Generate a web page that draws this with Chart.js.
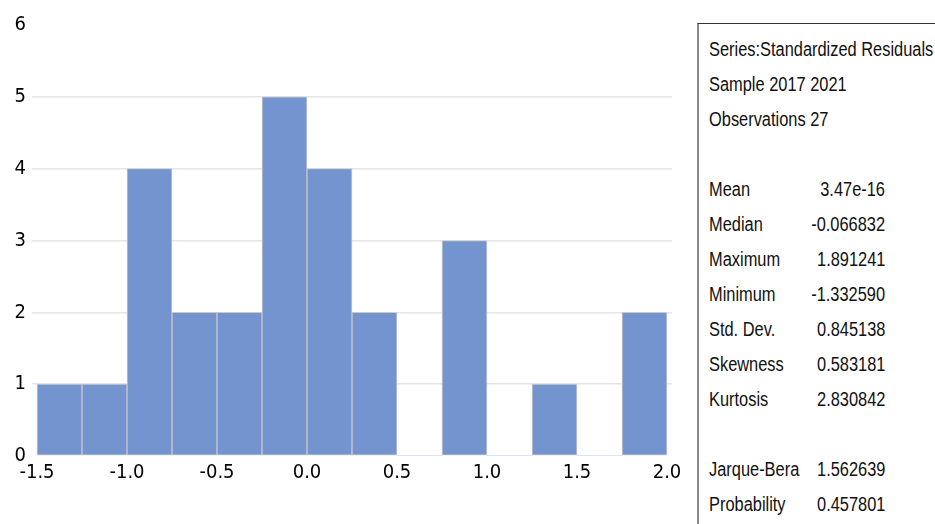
<!DOCTYPE html>
<html>
<head>
<meta charset="utf-8">
<script src="https://cdn.jsdelivr.net/npm/chart.js@4.4.1/dist/chart.umd.min.js"></script>
<style>
  html, body { margin: 0; padding: 0; background: #fff; width: 935px; height: 524px; overflow: hidden; }
  #wrap { position: absolute; left: 0; top: 0; width: 690px; height: 524px; }
  #stats {
    position: absolute; left: 697px; top: 23px; width: 238px; height: 501px;
    box-sizing: border-box; border-left: 2px solid #888; border-top: 1px solid #333;
    font-family: 'Liberation Sans', Arial, sans-serif; font-size: 20px; color: #111;
  }
  .lab, .val { position: absolute; height: 24px; line-height: 24px; white-space: nowrap; }
  .lab { left: 10px; transform: scaleX(0.82); transform-origin: left center; }
  .val { right: 50px; transform: scaleX(0.82); transform-origin: right center; }
</style>
</head>
<body>
<div id="wrap"><canvas id="c"></canvas></div>
<div id="stats"></div>
<script>
// ---- data ----
const binLower = [-1.5, -1.25, -1.0, -0.75, -0.5, -0.25, 0.0, 0.25, 0.5, 0.75, 1.0, 1.25, 1.5, 1.75];
const counts   = [1, 1, 4, 2, 2, 5, 4, 2, 0, 3, 0, 1, 0, 2];
const binWidth = 0.25;
const xTicks = [-1.5, -1.0, -0.5, 0.0, 0.5, 1.0, 1.5, 2.0];
const yTicks = [0, 1, 2, 3, 4, 5, 6];

const headerLines = ["Series:Standardized Residuals", "Sample 2017 2021", "Observations 27"];
const statNames  = ["Mean", "Median", "Maximum", "Minimum", "Std. Dev.", "Skewness", "Kurtosis"];
const statValues = ["3.47e-16", "-0.066832", "1.891241", "-1.332590", "0.845138", "0.583181", "2.830842"];
const testNames  = ["Jarque-Bera", "Probability"];
const testValues = ["1.562639", "0.457801"];

// ---- stats box ----
const statsEl = document.getElementById('stats');
const rowStep = 35, firstCenter = 25; // relative to box top (23)
function addRow(i, label, value) {
  const top = (firstCenter + rowStep * i - 12) + 'px';
  const l = document.createElement('div');
  l.className = 'lab';
  l.style.top = top;
  l.textContent = label;
  statsEl.appendChild(l);
  if (value !== undefined) {
    const v = document.createElement('div');
    v.className = 'val';
    v.style.top = top;
    v.textContent = value;
    statsEl.appendChild(v);
  }
}
headerLines.forEach((t, i) => addRow(i, t));
statNames.forEach((t, i) => addRow(4 + i, t, statValues[i]));
testNames.forEach((t, i) => addRow(12 + i, t, testValues[i]));

// ---- chart ----
const FONT = "'DejaVu Sans Condensed', 'DejaVu Sans', sans-serif";
Chart.defaults.color = '#000';
Chart.defaults.font.family = FONT;

const pts = binLower.map((lo, i) => ({ x: lo + binWidth / 2, y: counts[i] }));
const pad = 5 / 180; // small margin so grid lines extend slightly past the outer bars

new Chart(document.getElementById('c'), {
  type: 'bar',
  data: {
    datasets: [{
      data: pts,
      backgroundColor: '#7394CE',
      borderColor: '#c9c9c9',
      borderWidth: (ctx) => (ctx.raw && ctx.raw.y === 0 ? 0 : 1),
      borderSkipped: false,
      barPercentage: 1.0,
      categoryPercentage: 1.0
    }]
  },
  options: {
    responsive: true,
    maintainAspectRatio: false,
    animation: false,
    layout: { padding: { left: 0, right: 18, top: 25, bottom: 42 } },
    plugins: { legend: { display: false }, tooltip: { enabled: false }, title: { display: false } },
    scales: {
      x: {
        type: 'linear',
        min: xTicks[0] - pad,
        max: xTicks[xTicks.length - 1] + pad,
        offset: false,
        grid: { display: false },
        border: { display: false },
        afterBuildTicks: (scale) => { scale.ticks = xTicks.map(v => ({ value: v })); },
        ticks: {
          autoSkip: false, maxRotation: 0, padding: -3,
          font: { size: 20, family: FONT },
          callback: (v) => Number(v).toFixed(1)
        }
      },
      y: {
        min: yTicks[0],
        max: yTicks[yTicks.length - 1],
        afterFit: (scale) => { scale.width = 32; },
        afterBuildTicks: (scale) => { scale.ticks = yTicks.map(v => ({ value: v })); },
        grid: {
          drawTicks: false,
          color: (ctx) => (ctx.tick && (ctx.tick.value === 0 || ctx.tick.value === 6) ? 'rgba(0,0,0,0)' : '#e6e6e6'),
          lineWidth: 1.5
        },
        border: { display: false },
        ticks: { padding: 6, font: { size: 20, family: FONT } }
      }
    }
  }
});
</script>
</body>
</html>
